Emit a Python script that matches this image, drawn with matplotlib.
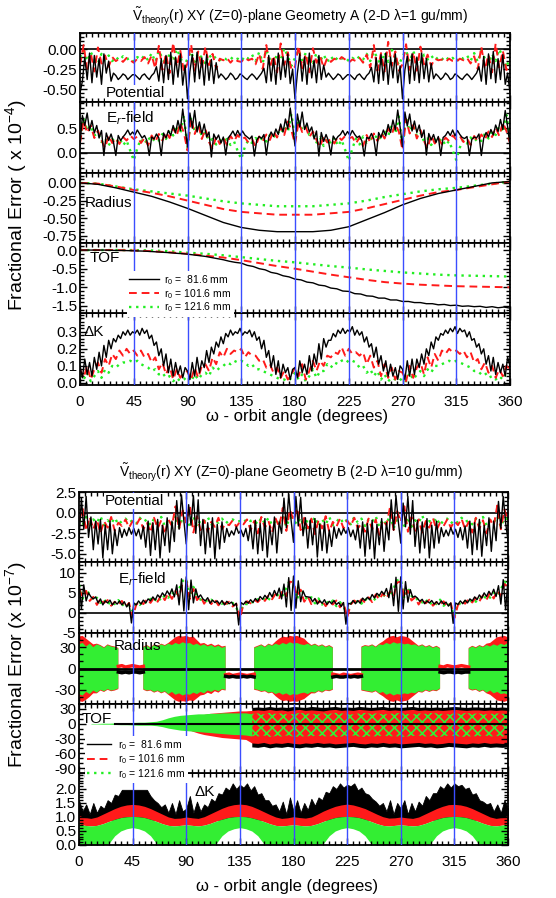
import numpy as np
import matplotlib.pyplot as plt
from matplotlib.ticker import MultipleLocator, FormatStrFormatter
from matplotlib.lines import Line2D

plt.rcParams['font.family'] = ['Liberation Sans', 'DejaVu Sans']
plt.rcParams['mathtext.fontset'] = 'custom'
plt.rcParams['mathtext.rm'] = 'Liberation Sans'
plt.rcParams['mathtext.it'] = 'Liberation Sans:italic'
plt.rcParams['axes.unicode_minus'] = False
plt.rcParams['hatch.linewidth'] = 1.2

N = np.nan
labels = ['r$_0$ =  81.6 mm', 'r$_0$ = 101.6 mm', 'r$_0$ = 121.6 mm']

# ---------------- Geometry A (x 1e-4) ----------------
pot_a_black = [
 -0.55,-0.40,-0.10,-0.38,-0.05,-0.42,-0.08,-0.35,-0.12,-0.44,-0.06,-0.30,-0.15,-0.40,
 -0.30,-0.33,-0.38,-0.35,-0.31,-0.33,-0.38,-0.35,-0.32,-0.32,-0.35,-0.38,-0.33,-0.31,-0.35,-0.38,-0.33,-0.30,
 -0.22,-0.40,-0.12,-0.42,-0.08,-0.38,-0.04,-0.44,-0.10,-0.35,-0.06,-0.45,-0.20,
 -0.62,-0.28,-0.07,-0.41,-0.04,-0.37,-0.11,-0.45,-0.07,-0.39,-0.13,-0.43,-0.17,-0.36,
 -0.31,-0.34,-0.38,-0.35,-0.30,-0.33,-0.38,-0.36,-0.31,-0.33,-0.36,-0.38,-0.34,-0.31,-0.34,-0.38,-0.34,-0.30,
 -0.24,-0.42,-0.08,-0.40,-0.12,-0.44,-0.05,-0.38,-0.10,-0.35,-0.06,-0.43,-0.25,
 -0.62,-0.30,-0.06,-0.40,-0.10,-0.44,-0.05,-0.36,-0.14,-0.42,-0.08,-0.38,-0.20,-0.35,
 -0.30,-0.34,-0.38,-0.35,-0.31,-0.33,-0.38,-0.35,-0.32,-0.32,-0.35,-0.38,-0.33,-0.31,-0.35,-0.38,-0.33,-0.30,
 -0.23,-0.41,-0.11,-0.43,-0.07,-0.39,-0.05,-0.44,-0.10,-0.36,-0.06,-0.42,-0.21,
 -0.62,-0.26,-0.09,-0.43,-0.06,-0.39,-0.10,-0.42,-0.05,-0.37,-0.12,-0.41,-0.18,-0.37,
 -0.31,-0.34,-0.38,-0.35,-0.30,-0.33,-0.38,-0.36,-0.31,-0.33,-0.36,-0.38,-0.34,-0.31,-0.34,-0.38,-0.34,-0.30,
 -0.22,-0.40,-0.09,-0.44,-0.06,-0.37,-0.03,-0.42,-0.12,-0.38,-0.07,-0.44,-0.30,
 -0.55]
pot_a_red = [
 -0.20,0.05,-0.25,-0.05,-0.28,0.02,-0.18,-0.08,-0.22,-0.10,-0.15,-0.12,-0.16,-0.11,-0.14,-0.17,-0.12,-0.15,-0.10,-0.18,-0.08,-0.24,0.04,-0.26,-0.06,-0.30,0.08,-0.22,-0.02,-0.28,
 -0.18,0.06,-0.27,-0.03,-0.24,0.03,-0.20,-0.06,-0.25,-0.12,-0.14,-0.11,-0.17,-0.12,-0.15,-0.16,-0.11,-0.14,-0.12,-0.19,-0.06,-0.25,0.05,-0.23,-0.08,-0.29,0.07,-0.20,-0.04,-0.26,
 -0.22,0.04,-0.24,-0.06,-0.29,0.01,-0.17,-0.09,-0.23,-0.11,-0.16,-0.12,-0.15,-0.10,-0.13,-0.17,-0.13,-0.15,-0.11,-0.17,-0.07,-0.23,0.05,-0.27,-0.05,-0.28,0.09,-0.21,-0.03,-0.27,
 -0.19,0.06,-0.26,-0.04,-0.27,0.03,-0.19,-0.07,-0.21,-0.12,-0.14,-0.13,-0.16,-0.12,-0.15,-0.16,-0.12,-0.14,-0.11,-0.18,-0.09,-0.25,0.03,-0.25,-0.07,-0.29,0.07,-0.23,-0.02,-0.26,
 -0.20]
pot_a_green = [
 -0.10,-0.02,-0.15,-0.04,-0.12,-0.18,-0.06,-0.14,-0.08,-0.15,-0.10,-0.14,-0.09,-0.13,-0.11,-0.16,-0.10,-0.13,-0.08,-0.14,-0.05,-0.16,-0.02,-0.12,-0.20,-0.05,-0.15,0.00,-0.10,-0.22,
 -0.12,-0.03,-0.16,-0.05,-0.11,-0.19,-0.07,-0.13,-0.09,-0.14,-0.11,-0.13,-0.10,-0.14,-0.12,-0.15,-0.09,-0.12,-0.07,-0.15,-0.04,-0.17,-0.01,-0.13,-0.19,-0.06,-0.14,0.01,-0.09,-0.21,
 -0.11,-0.01,-0.14,-0.05,-0.13,-0.17,-0.05,-0.15,-0.07,-0.16,-0.09,-0.15,-0.10,-0.12,-0.10,-0.15,-0.11,-0.14,-0.09,-0.13,-0.06,-0.15,-0.03,-0.11,-0.21,-0.04,-0.16,-0.01,-0.11,-0.20,
 -0.09,-0.02,-0.16,-0.03,-0.12,-0.18,-0.07,-0.13,-0.08,-0.14,-0.10,-0.13,-0.09,-0.14,-0.11,-0.16,-0.10,-0.12,-0.08,-0.15,-0.05,-0.16,-0.02,-0.12,-0.19,-0.06,-0.15,0.00,-0.10,-0.23,
 -0.10]

er_a_black = [
 0.15,0.75,0.55,0.80,0.45,0.65,0.40,0.55,0.30,0.45,-0.05,0.40,0.25,0.38,0.22,-0.05,0.35,0.25,0.32,0.38,
 0.46,0.36,0.42,0.36,0.46,0.38,0.30,0.35,0.25,-0.05,0.32,0.28,0.38,0.30,-0.05,0.40,0.30,0.45,0.35,0.55,0.40,0.65,0.45,0.88,0.50,
 0.12,0.80,0.50,0.85,0.42,0.62,0.38,0.58,0.32,0.42,-0.08,0.38,0.27,0.36,0.20,0.32,-0.04,0.30,0.36,0.44,
 0.34,0.45,0.35,0.44,0.36,0.32,0.28,0.34,-0.06,0.26,0.33,0.29,0.37,-0.04,0.31,0.42,0.33,0.48,0.37,0.58,0.42,0.68,0.48,0.90,0.55,
 0.14,0.78,0.52,0.82,0.47,0.60,0.42,0.52,0.28,0.44,-0.06,0.41,0.23,0.37,0.24,-0.04,0.34,0.26,0.33,0.37,
 0.45,0.35,0.43,0.35,0.45,0.37,0.31,0.34,0.24,-0.06,0.31,0.29,0.39,0.28,-0.05,0.41,0.31,0.46,0.34,0.57,0.41,0.66,0.46,0.86,0.52,
 0.13,0.82,0.54,0.78,0.44,0.64,0.41,0.56,0.31,0.46,-0.04,0.39,0.26,0.37,0.21,0.33,-0.05,0.31,0.35,0.43,
 0.35,0.46,0.34,0.45,0.37,0.31,0.29,0.33,-0.05,0.27,0.32,0.30,0.38,-0.05,0.30,0.41,0.32,0.47,0.36,0.56,0.43,0.67,0.47,0.85,0.53,
 0.15]
er_a_red = [
 0.20,0.65,0.40,0.55,0.30,0.45,0.25,0.10,0.35,0.20,0.30,0.18,0.32,0.25,0.35,0.28,0.33,0.20,0.30,0.15,0.35,0.22,0.38,0.25,0.42,0.30,0.50,0.35,0.60,0.40,
 0.05,0.70,0.38,0.58,0.28,0.48,0.22,0.08,0.33,0.18,0.31,0.16,0.34,0.24,0.36,0.27,0.31,0.21,0.28,0.13,0.33,0.24,0.37,0.26,0.44,0.31,0.52,0.36,0.63,0.45,
 0.18,0.62,0.42,0.52,0.32,0.43,0.26,0.12,0.34,0.21,0.29,0.19,0.33,0.26,0.34,0.29,0.32,0.19,0.31,0.14,0.36,0.21,0.39,0.24,0.41,0.29,0.49,0.37,0.58,0.42,
 0.06,0.68,0.39,0.56,0.29,0.46,0.24,0.09,0.36,0.19,0.30,0.17,0.31,0.24,0.35,0.27,0.34,0.22,0.29,0.16,0.34,0.23,0.37,0.27,0.43,0.32,0.51,0.34,0.61,0.44,
 0.20]
er_a_green = [
 0.30,0.70,0.45,0.55,0.35,0.40,0.22,0.30,0.15,0.28,0.20,0.30,0.15,0.25,0.05,-0.15,0.10,0.28,0.18,0.32,0.22,0.30,0.25,0.38,0.28,0.45,0.35,0.55,0.40,0.75,
 0.10,0.72,0.43,0.58,0.33,0.42,0.24,0.28,0.17,0.26,0.22,0.28,0.16,0.23,0.04,-0.12,0.12,0.26,0.20,0.30,0.24,0.31,0.23,0.36,0.30,0.43,0.37,0.53,0.42,0.78,
 0.28,0.68,0.47,0.53,0.36,0.38,0.21,0.31,0.14,0.29,0.19,0.31,0.14,0.26,0.06,-0.16,0.09,0.29,0.17,0.33,0.21,0.29,0.26,0.37,0.27,0.46,0.34,0.56,0.39,0.73,
 0.12,0.71,0.44,0.56,0.34,0.41,0.23,0.29,0.16,0.27,0.21,0.29,0.15,0.24,0.05,-0.14,0.11,0.27,0.19,0.31,0.23,0.30,0.24,0.39,0.29,0.44,0.36,0.54,0.41,0.76,
 0.30]

rad_a_black = [0.0,-0.02,-0.07,-0.13,-0.19,-0.27,-0.36,-0.46,-0.56,-0.63,-0.67,-0.69,-0.69,
               -0.69,-0.67,-0.62,-0.52,-0.42,-0.31,-0.22,-0.15,-0.10,-0.05,0.0,0.02]
rad_a_red = [0.0,-0.01,-0.05,-0.10,-0.14,-0.19,-0.25,-0.31,-0.37,-0.41,-0.43,-0.45,-0.45,
             -0.45,-0.43,-0.41,-0.36,-0.30,-0.24,-0.18,-0.13,-0.10,-0.06,-0.02,0.02]
rad_a_green = [0.0,-0.01,-0.05,-0.09,-0.12,-0.15,-0.18,-0.22,-0.26,-0.29,-0.31,-0.33,-0.33,
               -0.33,-0.31,-0.29,-0.25,-0.20,-0.16,-0.12,-0.09,-0.07,-0.04,-0.01,0.02]

tof_a_black = [0,0,0,0,0,-0.005,-0.01,-0.01,-0.015,-0.02,-0.025,-0.03,-0.04,-0.05,-0.06,-0.07,-0.085,
               -0.095,-0.11,-0.13,-0.15,-0.17,-0.20,-0.23,-0.26,-0.30,
               -0.33,-0.35,-0.41,-0.44,-0.50,-0.53,-0.60,-0.63,-0.69,-0.72,-0.78,-0.80,-0.86,-0.88,
               -0.94,-0.96,-1.02,-1.04,-1.10,-1.11,-1.17,-1.18,-1.23,-1.24,-1.29,-1.29,-1.34,-1.34,
               -1.38,-1.38,-1.41,-1.41,-1.44,-1.44,-1.47,-1.46,-1.49,-1.48,-1.51,-1.50,-1.52,-1.51,
               -1.54,-1.52,-1.55,-1.53,-1.56]
tof_a_red = [0,0,0,-0.01,-0.03,-0.06,-0.10,-0.15,-0.20,-0.27,-0.35,-0.43,-0.50,
             -0.58,-0.66,-0.73,-0.80,-0.86,-0.90,-0.93,-0.95,-0.97,-0.98,-0.99,-1.0]
tof_a_green = [0,0,0,0,-0.01,-0.03,-0.07,-0.10,-0.14,-0.19,-0.24,-0.29,-0.33,
               -0.38,-0.43,-0.47,-0.52,-0.56,-0.60,-0.63,-0.66,-0.68,-0.69,-0.70,-0.71]

dk_a_black = [
 0.10,0.03,0.14,0.05,0.12,0.04,0.15,0.08,0.18,0.10,0.22,0.15,0.25,0.20,0.26,0.24,0.28,0.26,0.30,0.28,
 0.31,0.28,0.30,0.29,0.31,0.28,0.32,0.29,0.31,0.26,0.28,0.22,0.24,0.16,0.20,0.10,0.17,0.06,0.14,0.04,0.12,0.05,0.10,0.03,0.09,
 0.07,0.02,0.12,0.04,0.15,0.06,0.13,0.09,0.19,0.12,0.21,0.17,0.24,0.21,0.27,0.23,0.29,0.27,0.31,0.28,
 0.30,0.29,0.32,0.28,0.30,0.29,0.31,0.27,0.30,0.25,0.27,0.20,0.25,0.15,0.19,0.09,0.16,0.05,0.13,0.03,0.11,0.06,0.09,0.02,0.08,
 0.09,0.03,0.13,0.06,0.11,0.05,0.16,0.07,0.17,0.11,0.23,0.14,0.26,0.21,0.25,0.25,0.29,0.27,0.31,0.29,
 0.32,0.29,0.31,0.30,0.33,0.28,0.31,0.28,0.30,0.24,0.27,0.21,0.23,0.15,0.21,0.11,0.16,0.07,0.13,0.04,0.11,0.04,0.09,0.02,0.10,
 0.08,0.02,0.13,0.04,0.14,0.05,0.14,0.09,0.17,0.11,0.20,0.16,0.24,0.20,0.27,0.25,0.29,0.28,0.31,0.29,
 0.32,0.30,0.33,0.29,0.32,0.30,0.31,0.27,0.30,0.25,0.26,0.21,0.23,0.17,0.20,0.11,0.16,0.07,0.15,0.05,0.12,0.06,0.11,0.04,0.15,
 0.10]
dk_a_red = [
 0.08,0.03,0.10,0.02,0.08,0.12,0.06,0.14,0.10,0.17,0.14,0.19,0.16,0.20,0.17,0.19,0.16,0.19,0.15,0.17,0.12,0.15,0.08,0.12,0.05,0.10,0.02,0.08,0.03,0.06,
 0.07,0.02,0.09,0.03,0.10,0.11,0.07,0.15,0.11,0.18,0.15,0.20,0.17,0.19,0.18,0.20,0.15,0.18,0.16,0.16,0.13,0.14,0.09,0.11,0.06,0.09,0.03,0.07,0.02,0.05,
 0.09,0.04,0.11,0.02,0.07,0.13,0.07,0.13,0.10,0.16,0.15,0.18,0.17,0.21,0.16,0.20,0.17,0.18,0.16,0.18,0.11,0.16,0.09,0.13,0.04,0.11,0.03,0.09,0.02,0.07,
 0.06,0.01,0.10,0.03,0.09,0.12,0.05,0.15,0.09,0.17,0.13,0.19,0.17,0.20,0.18,0.19,0.17,0.19,0.15,0.18,0.12,0.14,0.08,0.12,0.06,0.10,0.03,0.08,0.04,0.10,
 0.08]
dk_a_green = [
 0.05,0.02,0.06,0.01,0.04,0.07,0.03,0.08,0.06,0.10,0.09,0.11,0.12,0.12,0.13,0.12,0.13,0.11,0.10,0.09,0.07,0.08,0.05,0.06,0.03,0.04,0.01,0.03,0.01,0.02,
 0.04,0.01,0.05,0.02,0.05,0.06,0.04,0.09,0.07,0.09,0.10,0.12,0.11,0.13,0.12,0.13,0.12,0.10,0.11,0.08,0.08,0.07,0.06,0.05,0.04,0.03,0.02,0.02,0.01,0.03,
 0.06,0.02,0.05,0.01,0.04,0.08,0.03,0.07,0.07,0.11,0.09,0.12,0.11,0.13,0.14,0.12,0.13,0.12,0.09,0.10,0.06,0.08,0.04,0.07,0.02,0.05,0.01,0.03,0.02,0.01,
 0.03,0.01,0.06,0.02,0.05,0.07,0.04,0.08,0.06,0.10,0.10,0.11,0.12,0.13,0.12,0.13,0.12,0.11,0.10,0.09,0.07,0.07,0.05,0.06,0.03,0.04,0.02,0.04,0.02,0.06,
 0.05]

# ---------------- Geometry B (x 1e-7) ----------------
pot_b_black = [
 -3.5,1.8,-2.0,2.0,-3.0,-0.5,-4.5,-1.0,-3.8,-0.8,-5.5,-1.5,-4.5,-1.0,-5.0,-2.0,-4.0,-1.8,-3.0,-2.0,
 -2.8,-1.8,-2.6,-1.9,-2.8,-2.0,-3.2,-1.6,-4.2,-1.0,-5.2,-1.2,-4.5,-0.8,-5.5,-1.5,-4.0,-0.6,-4.8,-1.0,-3.5,1.5,-2.0,2.2,-1.0,
 -3.8,1.0,-1.5,2.1,-2.5,1.6,-4.0,-0.8,-5.0,-1.2,-4.2,-0.6,-5.6,-1.4,-4.4,-1.1,-3.6,-1.9,-2.9,-2.2,
 -2.7,-1.7,-2.5,-2.1,-2.9,-1.9,-3.4,-1.5,-4.4,-0.9,-5.0,-1.3,-4.6,-0.7,-5.4,-1.6,-3.9,-0.5,-4.9,-1.1,-2.5,1.8,-1.8,2.3,-0.9,
 -3.6,2.0,-1.6,1.9,-2.8,-0.6,-4.3,-0.9,-3.9,-0.7,-5.4,-1.4,-4.6,-1.1,-4.9,-2.1,-4.1,-1.7,-3.1,-1.9,
 -2.7,-1.9,-2.5,-1.8,-2.9,-2.1,-3.3,-1.5,-4.3,-1.1,-5.3,-1.3,-4.4,-0.9,-5.6,-1.4,-3.9,-0.7,-4.7,-1.2,-3.3,1.6,-2.1,2.1,-1.1,
 -3.7,1.2,-1.7,2.0,-2.6,1.5,-4.1,-0.9,-4.9,-1.1,-4.3,-0.7,-5.5,-1.5,-4.3,-1.0,-3.7,-1.8,-2.9,-2.1,
 -2.8,-1.8,-2.6,-2.0,-3.0,-1.8,-3.3,-1.6,-4.3,-1.0,-5.1,-1.2,-4.5,-0.8,-5.3,-1.5,-4.0,-0.6,-4.7,-1.0,-3.4,1.4,-1.9,2.0,-1.2,
 -3.4]
pot_b_red = [
 -1.0,0.5,-2.2,-0.5,-2.0,-0.8,-2.5,-1.0,-1.8,-0.5,-2.2,-1.2,-1.6,-0.8,-1.8,-1.0,-1.5,-0.7,-2.0,-1.2,-2.4,-0.6,-1.9,-0.9,-2.6,-0.8,-1.6,0.8,-2.0,0.3,
 -1.2,0.9,-2.4,-0.4,-2.1,-0.9,-2.3,-1.1,-1.7,-0.6,-2.0,-1.3,-1.5,-0.9,-1.7,-1.1,-1.4,-0.8,-2.1,-1.0,-2.5,-0.5,-1.8,-1.0,-2.4,-0.7,-1.7,0.6,-2.2,0.4,
 -0.9,0.6,-2.1,-0.6,-1.9,-0.7,-2.6,-0.9,-1.9,-0.4,-2.3,-1.1,-1.7,-0.7,-1.9,-0.9,-1.6,-0.6,-1.9,-1.3,-2.3,-0.7,-2.0,-0.8,-2.7,-0.9,-1.5,0.7,-2.1,0.2,
 -1.1,0.8,-2.3,-0.5,-2.2,-0.8,-2.4,-1.0,-1.8,-0.6,-2.1,-1.2,-1.6,-0.8,-1.8,-1.0,-1.5,-0.7,-2.0,-1.1,-2.4,-0.6,-1.9,-0.9,-2.5,-0.8,-1.6,0.9,-2.0,0.4,
 -1.0]
pot_b_green = [
 -0.8,-1.5,-0.5,-1.8,-0.8,-1.2,-0.4,-1.5,-0.9,-1.3,-0.6,-1.4,-1.0,-0.7,-1.2,-0.9,-1.3,-0.6,-1.1,-0.8,-1.5,-0.7,-1.2,-0.5,-1.6,-0.9,-1.3,-0.3,-1.8,-0.6,
 -0.7,-1.6,-0.4,-1.7,-0.9,-1.1,-0.5,-1.4,-1.0,-1.2,-0.7,-1.3,-0.9,-0.8,-1.1,-1.0,-1.2,-0.7,-1.0,-0.9,-1.4,-0.6,-1.3,-0.6,-1.5,-1.0,-1.2,-0.4,-1.7,-0.5,
 -0.9,-1.4,-0.6,-1.9,-0.7,-1.3,-0.5,-1.6,-0.8,-1.4,-0.5,-1.5,-1.1,-0.6,-1.3,-0.8,-1.4,-0.5,-1.2,-0.7,-1.6,-0.8,-1.1,-0.4,-1.7,-0.8,-1.4,-0.2,-1.9,-0.7,
 -0.6,-1.6,-0.5,-1.7,-0.9,-1.2,-0.3,-1.5,-1.0,-1.2,-0.6,-1.5,-0.9,-0.7,-1.3,-0.9,-1.2,-0.6,-1.1,-0.9,-1.4,-0.7,-1.3,-0.5,-1.5,-0.9,-1.2,-0.4,-1.7,-0.6,
 -0.8]

er_b_black = [
 8.0,1.0,7.0,3.0,5.0,4.0,3.5,4.0,2.5,3.5,2.0,3.0,2.5,3.2,2.0,2.8,2.2,3.0,2.0,2.8,
 1.5,2.5,-2.5,2.5,2.0,3.0,2.2,3.2,2.5,3.5,3.0,4.0,3.2,4.5,3.8,5.0,4.2,5.5,4.5,6.0,4.0,7.0,2.0,8.5,0.5,
 9.0,0.8,8.2,2.5,6.0,3.8,4.5,3.5,3.0,3.8,2.4,3.2,2.6,3.0,2.2,3.1,2.0,2.9,2.3,2.7,
 1.8,2.4,-3.0,2.6,2.1,2.9,2.4,3.3,2.6,3.6,2.9,4.1,3.4,4.4,3.6,5.1,4.0,5.6,4.3,6.2,3.5,7.2,1.5,8.8,0.6,
 9.2,1.2,8.0,2.8,5.5,4.1,4.0,3.9,2.8,3.6,2.2,3.1,2.4,3.3,2.1,2.9,2.3,3.1,2.1,2.6,
 1.6,2.6,-2.8,2.4,2.2,3.1,2.3,3.1,2.4,3.7,3.1,3.9,3.3,4.6,3.7,4.9,4.3,5.4,4.6,6.1,3.8,7.3,1.8,8.9,0.4,
 9.0,1.0,7.8,2.7,5.8,3.9,4.2,3.7,2.9,3.4,2.3,3.0,2.5,3.1,2.2,2.8,2.1,3.0,2.2,2.7,
 1.7,2.5,-2.6,2.5,2.1,3.0,2.3,3.2,2.5,3.5,3.0,4.0,3.3,4.5,3.7,5.0,4.1,5.4,4.4,5.9,4.1,6.8,2.2,8.3,0.8,
 8.2]
er_b_red = [
 6.0,4.0,5.5,3.0,4.0,2.0,3.5,2.5,3.2,1.8,2.8,2.0,3.0,1.5,2.5,-1.0,2.0,3.0,2.2,3.5,2.5,3.8,2.8,4.5,3.2,5.0,3.5,5.5,4.0,7.5,
 8.0,3.5,6.0,3.2,4.2,2.3,3.6,2.2,3.4,1.9,2.9,2.2,2.8,1.6,2.3,-1.5,2.2,2.9,2.4,3.3,2.7,3.7,3.0,4.4,3.4,4.8,3.7,5.7,4.2,7.8,
 7.6,4.2,5.8,2.8,4.1,2.2,3.4,2.6,3.1,1.7,2.9,2.1,3.1,1.4,2.6,-1.2,2.1,3.1,2.3,3.4,2.6,3.9,2.7,4.6,3.3,4.9,3.6,5.4,4.1,7.6,
 7.8,3.8,5.6,3.1,3.9,2.1,3.5,2.4,3.3,1.8,2.7,2.1,2.9,1.6,2.4,-1.3,2.0,3.0,2.3,3.5,2.6,3.8,2.9,4.4,3.3,5.1,3.6,5.6,4.2,7.2,
 6.5]
er_b_green = [
 7.0,3.5,6.0,4.5,3.0,3.8,2.5,3.5,2.0,3.0,2.2,3.2,1.8,2.6,1.5,0.5,2.5,2.0,3.0,2.4,3.5,2.8,4.0,3.0,4.5,3.8,5.2,4.2,6.0,8.0,
 8.5,3.8,6.5,4.2,3.3,3.6,2.7,3.3,2.2,2.9,2.3,3.0,1.9,2.5,1.3,-0.5,2.3,2.2,2.8,2.6,3.4,2.9,3.8,3.2,4.6,3.7,5.0,4.4,6.2,8.2,
 8.3,3.4,6.2,4.4,3.1,3.9,2.4,3.6,2.1,3.1,2.1,3.1,1.7,2.7,1.4,0.2,2.4,2.1,3.1,2.3,3.6,2.7,4.1,3.1,4.4,3.9,5.3,4.1,6.1,8.1,
 8.4,3.6,6.1,4.3,3.2,3.7,2.6,3.4,2.0,3.0,2.2,3.3,1.8,2.6,1.5,-0.8,2.5,2.0,2.9,2.5,3.5,2.8,3.9,3.1,4.5,3.8,5.1,4.3,5.9,7.8,
 7.0]

# radius B: envelopes of the scattered clouds on a 3 degree grid (nan = no cloud)
rad_b_green_hi = [
 34,36,31,35,30,34,32,29,33,31,30,28, N,N,N,N,N,N,
 30,32,29,33,31,34,32,35,33,36,34,37,35,36,33,35,32,34,31,33,30,32,29,31, N,N,N,N,N,N,N,
 29,31,33,30,34,32,35,33,36,34,37,35,36,34,33,35,32,34,31,33,30,32,29, N,N,N,N,N,N,N,
 30,32,31,33,30,34,33,36,34,37,35,36,34,35,33,34,31,33,30,32,29,31,28, N,N,N,N,N,N,N,
 28,31,29,32,30,33,31,34,32,35,33,36]
rad_b_green_lo = [
 -36,-38,-33,-36,-31,-34,-30,-32,-29,-31,-30,-28, N,N,N,N,N,N,
 -29,-31,-30,-33,-31,-34,-32,-36,-33,-37,-35,-38,-36,-37,-34,-36,-33,-35,-31,-33,-30,-32,-29,-30, N,N,N,N,N,N,N,
 -29,-30,-32,-31,-34,-33,-36,-34,-37,-35,-38,-36,-37,-35,-34,-36,-33,-34,-31,-33,-30,-31,-29, N,N,N,N,N,N,N,
 -30,-31,-32,-33,-31,-35,-33,-37,-35,-38,-36,-37,-35,-36,-34,-35,-32,-33,-30,-32,-30,-31,-28, N,N,N,N,N,N,N,
 -28,-30,-29,-32,-30,-34,-31,-35,-33,-36,-35,-37]
rad_b_red_hi = [
 45,46,42,38,34,35,33,30,34,32,31,29, N,N,N,N,N,N,
 31,33,30,34,32,35,33,36,40,44,46,45,46,44,45,40,35,36,33,35,32,34,31,32, N,N,N,N,N,N,N,
 30,32,34,31,35,33,38,42,45,44,46,45,46,44,42,37,33,35,32,34,31,33,30, N,N,N,N,N,N,N,
 31,33,32,34,31,35,38,42,45,46,44,46,45,44,40,36,32,34,31,33,30,32,29, N,N,N,N,N,N,N,
 29,32,30,33,31,35,36,40,44,45,46,44]
rad_b_red_lo = [
 -46,-47,-44,-40,-35,-35,-31,-33,-30,-32,-31,-29, N,N,N,N,N,N,
 -30,-32,-31,-34,-32,-35,-33,-37,-41,-45,-47,-46,-47,-45,-46,-42,-38,-37,-34,-36,-32,-34,-30,-31, N,N,N,N,N,N,N,
 -30,-31,-33,-32,-35,-34,-39,-43,-46,-45,-47,-46,-47,-45,-43,-39,-35,-35,-32,-34,-31,-32,-30, N,N,N,N,N,N,N,
 -31,-32,-33,-34,-32,-36,-39,-43,-46,-47,-45,-47,-46,-45,-41,-37,-33,-34,-31,-33,-31,-32,-29, N,N,N,N,N,N,N,
 -29,-31,-30,-33,-31,-35,-37,-41,-45,-46,-47,-45]
rad_b_black = [N]*11 + [-5,-6,-5,-6,-5,-5,-6,-5] + [N]*22 + [-11,-12,-11,-12,-12,-11,-12,-11,-12] + [N]*21 + \
              [-12,-11,-12,-12,-11,-12,-11,-12,-11] + [N]*21 + [-5,-6,-5,-5,-6,-5,-6,-5,-5] + [N]*11
rad_b_red_gap = [N]*11 + [3,4,2,3,4,3,2,3] + [N]*22 + [-9,-8,-10,-9,-8,-9,-10,-9,-8] + [N]*21 + \
                [-8,-9,-10,-8,-9,-10,-9,-8,-9] + [N]*21 + [3,2,4,3,2,3,4,3,2] + [N]*11

# TOF B envelopes on a 5 degree grid
tof_b_black_hi = [N]*29 + [33,34,33,35,33,34,33,35,34,33,35,34,33,34,35,33,34,33,35,34,33,34,
                           35,33,34,33,34,35,33,34,33,34,33,34,35,34,33,34,34,33,34,33,34,33]
tof_b_black_lo = [N]*29 + [-47,-48,-46,-49,-47,-48,-46,-48,-49,-47,-48,-46,-48,-47,-49,-48,-47,-46,-48,-49,-47,-48,
                           -46,-48,-47,-49,-48,-47,-46,-48,-47,-49,-48,-46,-47,-48,-49,-47,-48,-46,-48,-47,-48,-47]
tof_b_red_hi = [N]*18 + [10,14,17,19,21,22,23,24,25,26,26] + \
               [27,28,27,29,27,28,26,28,29,27,28,27,26,28,29,27,28,27,29,28,27,28,
                29,27,28,27,28,29,27,28,27,28,27,28,29,28,27,28,28,27,28,27,28,27]
tof_b_red_lo = [N]*18 + [-10,-15,-19,-22,-24,-26,-28,-29,-30,-31,-32] + \
               [-39,-40,-38,-41,-39,-40,-38,-40,-41,-39,-40,-38,-40,-39,-41,-40,-39,-38,-40,-41,-39,-40,
                -38,-40,-39,-41,-40,-39,-38,-40,-39,-41,-40,-38,-39,-40,-41,-39,-40,-38,-40,-39,-40,-39]
tof_b_green_hi = [N, N, 0.5,0.5,1,1,1.5,2,2,2.5,3,3,4,5,8,12,15,17,18,19,20,20,21,21,22,22,22,22,22] + \
                 [20,21,19,22,20,21,19,20,22,21,20,19,21,20,22,21,20,19,21,22,20,21,
                  19,20,21,22,20,19,21,20,22,21,20,19,21,20,22,20,21,19,20,21,20,21]
tof_b_green_lo = [N, N, -0.5,-0.5,-1,-1,-1.5,-2,-2,-2.5,-3,-3,-3,-4,-6,-9,-11,-13,-14,-15,-16,-17,-18,-19,-20,-21,-22,-22,-23] + \
                 [-25,-26,-24,-27,-25,-26,-24,-26,-27,-25,-26,-24,-26,-25,-27,-26,-25,-24,-26,-27,-25,-26,
                  -24,-26,-25,-27,-26,-25,-24,-26,-25,-27,-26,-24,-25,-26,-27,-25,-26,-24,-26,-25,-26,-25]
tof_b_black_line = [N]*6 + [0]*67

# Delta K B envelopes on a 5 degree grid
dk_b_red_hi = [
 1.05,0.98,0.95,1.00,1.10,1.20,1.30,1.38,1.43,1.45,1.43,1.38,1.30,1.20,1.10,1.00,0.95,0.96,
 1.00,0.97,0.95,1.01,1.11,1.21,1.31,1.39,1.44,1.46,1.44,1.38,1.29,1.19,1.09,1.00,0.95,0.97,
 1.01,0.98,0.96,1.00,1.10,1.21,1.30,1.38,1.43,1.46,1.43,1.37,1.30,1.20,1.10,1.01,0.96,0.97,
 1.00,0.97,0.95,1.00,1.10,1.20,1.30,1.38,1.44,1.45,1.43,1.38,1.30,1.20,1.10,1.00,0.95,0.98,
 1.05]
dk_b_green_hi = [
 0.75,0.70,0.68,0.70,0.76,0.84,0.92,0.98,1.01,1.02,1.01,0.98,0.92,0.84,0.76,0.70,0.68,0.70,
 0.72,0.70,0.68,0.71,0.77,0.85,0.92,0.98,1.01,1.02,1.01,0.97,0.91,0.84,0.76,0.70,0.68,0.70,
 0.72,0.70,0.68,0.70,0.76,0.84,0.92,0.98,1.01,1.02,1.01,0.98,0.92,0.84,0.76,0.70,0.68,0.70,
 0.72,0.70,0.68,0.70,0.76,0.84,0.92,0.98,1.01,1.02,1.01,0.98,0.92,0.84,0.76,0.70,0.68,0.71,
 0.75]
dk_b_green_lo = [
 0,0,0,0,0,0.05,0.33,0.50,0.58,0.62,0.58,0.50,0.33,0.05,0,0,0,0,
 0,0,0,0,0,0.05,0.33,0.50,0.58,0.62,0.58,0.50,0.33,0.05,0,0,0,0,
 0,0,0,0,0,0.05,0.33,0.50,0.58,0.62,0.58,0.50,0.33,0.05,0,0,0,0,
 0,0,0,0,0,0.05,0.33,0.50,0.58,0.62,0.58,0.50,0.33,0.05,0,0,0,0,
 0]
# spiky top of the black band, 3 degree grid
dk_b_black_spk = [
 1.6,1.2,1.45,1.1,1.5,1.15,1.4,1.3,1.6,1.5,1.8,1.75,1.97,1.97,1.97,1.97,1.97,1.97,1.97,1.97,1.75,1.6,1.5,1.35,1.45,1.15,1.5,1.1,1.6,1.2,
 1.3,1.75,1.15,1.55,1.2,1.45,1.35,1.65,1.55,1.85,1.8,2.05,1.95,2.2,2.0,2.15,2.05,2.2,1.95,2.1,1.8,1.85,1.6,1.6,1.4,1.45,1.2,1.55,1.1,1.7,
 1.2,1.6,1.15,1.5,1.25,1.65,1.4,1.7,1.6,1.9,1.85,2.1,2.0,2.2,2.05,2.15,2.1,2.2,1.95,2.05,1.85,1.8,1.65,1.55,1.4,1.5,1.2,1.6,1.1,1.5,
 1.3,1.6,1.1,1.5,1.2,1.55,1.4,1.75,1.6,1.85,1.85,2.1,2.0,2.2,2.05,2.2,2.1,2.15,2.0,2.05,1.8,1.85,1.6,1.55,1.45,1.5,1.2,1.45,1.15,1.6,
 1.3]
dk_b_black_base = 0.9

# tick positions
ticks_a = [[-0.5, -0.25, 0], [0, 0.5], [-0.75, -0.5, -0.25, 0], [-1.5, -1.0, -0.5, 0], [0, 0.1, 0.2, 0.3]]
ticks_b = [[-5, -2.5, 0, 2.5], [-5, 0, 5, 10], [-30, 0, 30], [-90, -60, -30, 0, 30], [0, 0.5, 1.0, 1.5, 2.0]]

BLK = dict(color='k', lw=1.0)
RED = dict(color='#ff1a1a', lw=1.4, ls=(0, (4, 2.5)))
GRN = dict(color='#22ee22', lw=1.7, ls=(0, (1, 2)))
BLUE = '#3b4dff'
GFILL = '#33ee33'

W, H = 556, 898
fig = plt.figure(figsize=(W / 100, H / 100), dpi=100)


def panel(top, bot, left=80, right=510):
    return fig.add_axes([left / W, 1 - bot / H, (right - left) / W, (bot - top) / H])


def style(ax, ylim, ticks, minor, fmt, xlab=False):
    ax.set_xlim(0, 360)
    ax.set_ylim(*ylim)
    ax.set_xticks(range(0, 361, 45))
    ax.xaxis.set_minor_locator(MultipleLocator(5))
    ax.set_yticks(ticks)
    ax.yaxis.set_minor_locator(MultipleLocator(minor))
    ax.yaxis.set_major_formatter(FormatStrFormatter(fmt))
    ax.tick_params(which='both', direction='in', top=True, right=True, labelsize=11, width=1, pad=2)
    ax.tick_params(which='major', length=5)
    ax.tick_params(which='minor', length=3)
    ax.tick_params(axis='x', pad=7)
    if not xlab:
        ax.tick_params(labelbottom=False)
    for s in ax.spines.values():
        s.set_linewidth(1.3)
    for a in range(45, 360, 45):
        ax.axvline(a, color=BLUE, lw=1.0, zorder=3)


def xs(arr):
    return np.linspace(0, 360, len(arr))


def tag(ax, x, y, s, bg=False):
    kw = dict(bbox=dict(facecolor='white', edgecolor='none', pad=0.5)) if bg else {}
    ax.text(x, y, s, transform=ax.transAxes, fontsize=11, ha='left', va='center', zorder=6, **kw)


def three(ax, b, r, g):
    ax.plot(xs(g), g, **GRN, zorder=2)
    ax.plot(xs(r), r, **RED, zorder=2)
    ax.plot(xs(b), b, **BLK, zorder=2)


# ---------------- top chart ----------------
ya = [33, 102, 173, 243, 313, 385]
axa = [panel(ya[i], ya[i + 1]) for i in range(5)]

ax = axa[0]
ax.axhline(0, color='k', lw=1.2)
three(ax, pot_a_black, pot_a_red, pot_a_green)
style(ax, (-0.66, 0.2), ticks_a[0], 0.05, '%.2f')
tag(ax, 0.06, 0.13, 'Potential', bg=True)

ax = axa[1]
ax.axhline(0, color='k', lw=1.2)
three(ax, er_a_black, er_a_red, er_a_green)
style(ax, (-0.4, 1.02), ticks_a[1], 0.1, '%.1f')
tag(ax, 0.06, 0.77, 'E$_r$-field')

ax = axa[2]
three(ax, rad_a_black, rad_a_red, rad_a_green)
style(ax, (-0.85, 0.14), ticks_a[2], 0.05, '%.2f')
tag(ax, 0.012, 0.57, 'Radius')

ax = axa[3]
three(ax, tof_a_black, tof_a_red, tof_a_green)
style(ax, (-1.69, 0.19), ticks_a[3], 0.1, '%.1f')
tag(ax, 0.022, 0.79, 'TOF')

ax = axa[4]
three(ax, dk_a_black, dk_a_red, dk_a_green)
style(ax, (-0.012, 0.41), ticks_a[4], 0.02, '%.1f', xlab=True)
tag(ax, 0.008, 0.74, 'ΔK')

handles = [Line2D([], [], **BLK), Line2D([], [], **RED), Line2D([], [], **GRN)]
axa[3].set_zorder(5)
axa[3].legend(handles, labels, loc='upper left', bbox_to_anchor=(127 / W, 1 - 271 / H),
              bbox_transform=fig.transFigure, fontsize=7.5, frameon=True, facecolor='white',
              edgecolor='none', fancybox=False, framealpha=1, handlelength=2.9,
              handletextpad=0.5, labelspacing=0.0, borderpad=0.2, borderaxespad=0)

fig.text(300 / W, 1 - 17 / H,
         r'$\tilde{\mathrm{V}}_{\mathrm{theory}}$(r) XY (Z=0)-plane Geometry A (2-D λ=1 gu/mm)',
         ha='center', va='center', fontsize=10)
fig.text(297 / W, 1 - 416 / H, 'ω - orbit angle (degrees)', ha='center', va='center', fontsize=12)
fig.text(16 / W, 1 - 205 / H, 'Fractional Error ( x 10$^{-4}$)', rotation=90,
         ha='center', va='center', fontsize=14)

# ---------------- bottom chart ----------------
yb = [492, 562, 633, 704, 773, 845]
axb = [panel(yb[i], yb[i + 1], left=79, right=508) for i in range(5)]

ax = axb[0]
ax.axhline(0, color='k', lw=1.2)
three(ax, pot_b_black, pot_b_red, pot_b_green)
style(ax, (-6.0, 2.55), ticks_b[0], 0.5, '%.1f')
tag(ax, 0.06, 0.87, 'Potential', bg=True)

ax = axb[1]
ax.axhline(0, color='k', lw=1.2)
three(ax, er_b_black, er_b_red, er_b_green)
style(ax, (-5, 12.7), ticks_b[1], 1, '%d')
tag(ax, 0.09, 0.75, 'E$_r$-field')

ax = axb[2]
ax.fill_between(xs(rad_b_red_hi), rad_b_red_lo, rad_b_red_hi, color='#ff1a1a', lw=0, zorder=1)
ax.fill_between(xs(rad_b_green_hi), rad_b_green_lo, rad_b_green_hi, color=GFILL, lw=0, zorder=1.1)
ax.plot(xs(rad_b_red_gap), rad_b_red_gap, color='#ff1a1a', lw=2.5, zorder=1.2)
ax.plot(xs(rad_b_black), rad_b_black, color='k', lw=2.5, zorder=1.3)
ax.axhline(0, color='k', lw=2.0, zorder=2)
style(ax, (-50, 50), ticks_b[2], 10, '%d')
tag(ax, 0.08, 0.82, 'Radius')

ax = axb[3]
ax.fill_between(xs(tof_b_black_hi), tof_b_black_lo, tof_b_black_hi, color='k', lw=0, zorder=1)
ax.fill_between(xs(tof_b_red_hi), tof_b_red_lo, tof_b_red_hi, color='#ff1a1a', lw=0, zorder=1.1)
gx = xs(tof_b_green_hi)
early = gx <= 145
late = gx >= 145
ax.fill_between(gx[early], np.array(tof_b_green_lo)[early], np.array(tof_b_green_hi)[early],
                color=GFILL, lw=0, zorder=1.2)
ax.fill_between(gx[late], np.array(tof_b_green_lo)[late], np.array(tof_b_green_hi)[late],
                facecolor='none', edgecolor=GFILL, hatch='xxx', lw=0, zorder=1.2)
ax.plot(xs(tof_b_black_line), tof_b_black_line, color='k', lw=1.5, zorder=2)
style(ax, (-100, 40), ticks_b[3], 10, '%d')
tag(ax, 0.007, 0.78, 'TOF')

ax = axb[4]
dx = xs(dk_b_red_hi)
# black band up to its spiky top; red and green bands are laid over its lower part
ax.fill_between(xs(dk_b_black_spk), dk_b_black_base, dk_b_black_spk, color='k', lw=0.6, zorder=1)
ax.fill_between(dx, dk_b_green_hi, dk_b_red_hi, color='#ff1a1a', lw=0, zorder=1.1)
ax.fill_between(dx, dk_b_green_lo, dk_b_green_hi, color=GFILL, lw=0, zorder=1.2)
style(ax, (0, 2.57), ticks_b[4], 0.1, '%.1f', xlab=True)
tag(ax, 0.27, 0.74, 'ΔK')

axb[3].set_zorder(5)
axb[3].legend(handles, labels, loc='upper left', bbox_to_anchor=(85 / W, 1 - 736 / H),
              bbox_transform=fig.transFigure, fontsize=7.5, frameon=True, facecolor='white',
              edgecolor='none', fancybox=False, framealpha=1, handlelength=2.3,
              handletextpad=0.7, labelspacing=0.05, borderpad=0.2, borderaxespad=0)

fig.text(291 / W, 1 - 473 / H,
         r'$\tilde{\mathrm{V}}_{\mathrm{theory}}$(r) XY (Z=0)-plane Geometry B (2-D λ=10 gu/mm)',
         ha='center', va='center', fontsize=10)
fig.text(287 / W, 1 - 887 / H, 'ω - orbit angle (degrees)', ha='center', va='center', fontsize=12)
fig.text(16 / W, 1 - 665 / H, 'Fractional Error (x 10$^{-7}$)', rotation=90,
         ha='center', va='center', fontsize=14)

fig.savefig('out.png', dpi=100)
